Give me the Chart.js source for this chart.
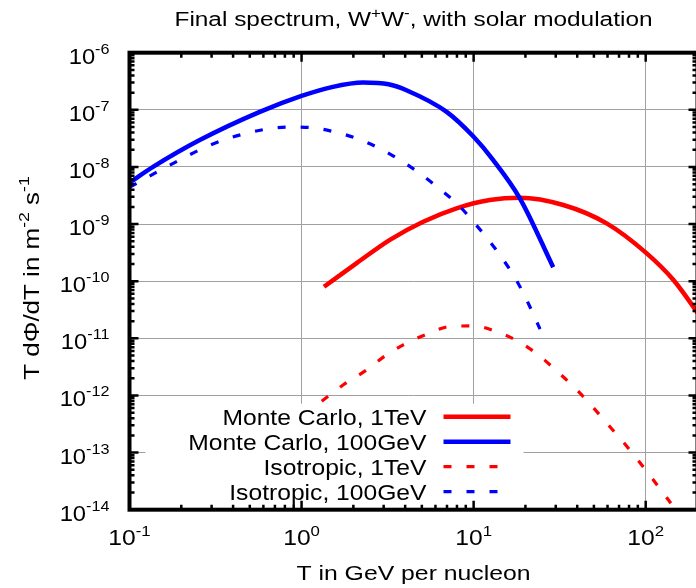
<!DOCTYPE html>
<html>
<head>
<meta charset="utf-8">
<script src="https://cdn.jsdelivr.net/npm/chart.js@4.4.1/dist/chart.umd.min.js"></script>
<style>
  html, body { margin: 0; padding: 0; background: #fff; overflow: hidden; }
  canvas { display: block; }
</style>
</head>
<body>
<canvas id="spectrum" width="700" height="588"></canvas>
<script>
// kinetic energy per nucleon T (GeV) and T dPhi/dT (m^-2 s^-1)
const mc1TeV_T      = [1.35, 2.09, 3.26, 5.09, 7.96, 12.4, 18.6, 33.2, 59.3, 101, 145, 194, 200];
const mc1TeV_flux   = [8.0e-11, 2.07e-10, 5.3e-10, 1.1e-9, 1.89e-9, 2.64e-9, 2.9e-9, 2.16e-9, 1.03e-9, 3.1e-10, 1.05e-10, 3.2e-11, 2.8e-11];

const mc100GeV_T    = [0.1, 0.137, 0.256, 0.572, 1.0, 1.5, 2.28, 3.2, 4.07, 6.97, 10, 13, 18.6, 29];
const mc100GeV_flux = [5.3e-9, 1.0e-8, 2.95e-8, 9.2e-8, 1.75e-7, 2.5e-7, 3.0e-7, 2.8e-7, 2.2e-7, 9.2e-8, 3.37e-8, 1.32e-8, 2.8e-9, 1.76e-10];

const iso1TeV_T     = [1.31, 1.75, 2.39, 3.12, 3.90, 5.33, 7.28, 10, 13.6, 18.6, 24.0, 30.6, 38.8, 48.5, 59.3, 73.5, 89.8, 110, 134, 140];
const iso1TeV_flux  = [7.9e-13, 1.54e-12, 2.8e-12, 5.15e-12, 7.7e-12, 1.18e-11, 1.61e-11, 1.65e-11, 1.31e-11, 8.5e-12, 5.0e-12, 2.63e-12, 1.35e-12, 6.6e-13, 3.3e-13, 1.57e-13, 7.5e-14, 3.4e-14, 1.55e-14, 1.3e-14];

const iso100GeV_T   = [0.1, 0.164, 0.313, 0.598, 0.855, 1.12, 1.56, 2.13, 2.85, 3.73, 4.87, 6.37, 8.15, 9.96, 12.2, 14.9, 17.8, 20.7, 23.7, 24.3];
const iso100GeV_flux= [4.4e-9, 1.0e-8, 2.6e-8, 4.5e-8, 5.0e-8, 4.9e-8, 4.1e-8, 3.1e-8, 2.1e-8, 1.32e-8, 7.7e-9, 4.1e-9, 2.16e-9, 1.1e-9, 5.3e-10, 2.35e-10, 1.02e-10, 4.2e-11, 1.72e-11, 1.45e-11];

const xTicks = [0.1, 1, 10, 100];
const yTicks = [1e-14, 1e-13, 1e-12, 1e-11, 1e-10, 1e-9, 1e-8, 1e-7, 1e-6];

const FONT = '"Liberation Sans", Arial, sans-serif';

function pts(xs, ys) {
    return xs.map((x, i) => ({ x: x, y: ys[i] }));
}

// text with superscript pieces: parts = [[text, isSup], ...]
// sx stretches the glyphs horizontally (the plot font runs wide)
function richWidth(ctx, parts, size, supSize) {
    let w = 0;
    parts.forEach(p => {
        ctx.font = (p[1] ? supSize : size) + 'px ' + FONT;
        w += ctx.measureText(p[0]).width;
    });
    return w;
}

function drawRich(ctx, parts, x, y, align, size, supSize, rise, sx) {
    sx = sx || 1;
    const w = richWidth(ctx, parts, size, supSize) * sx;
    const x0 = align === 'center' ? x - w / 2 : (align === 'right' ? x - w : x);
    ctx.save();
    ctx.translate(x0, y);
    ctx.scale(sx, 1);
    ctx.textAlign = 'left';
    ctx.textBaseline = 'alphabetic';
    let cx = 0;
    parts.forEach(p => {
        ctx.font = (p[1] ? supSize : size) + 'px ' + FONT;
        ctx.fillText(p[0], cx, p[1] ? -rise : 0);
        cx += ctx.measureText(p[0]).width;
    });
    ctx.restore();
}

// minor tick positions 2..9 in every decade
function minorValues(min, max) {
    const out = [];
    for (let e = Math.floor(Math.log10(min)); e <= Math.ceil(Math.log10(max)); e++) {
        for (let k = 2; k <= 9; k++) {
            const v = k * Math.pow(10, e);
            if (v > min && v < max) out.push(v);
        }
    }
    return out;
}

const keyBox = {
    id: 'keyBox',
    afterDatasetsDraw(chart) {
        const ctx = chart.ctx;
        const a = chart.chartArea;
        ctx.save();
        ctx.fillStyle = '#ffffff';
        ctx.fillRect(a.left + 16, a.bottom - 106, 378, 106);
        chart.data.datasets.forEach((ds, i) => {
            const yc = a.bottom - 93 + i * 25;
            ctx.fillStyle = '#000';
            drawRich(ctx, [[ds.label, false]], a.left + 297, yc + 8, 'right', 22, 15, 0, 1.12);
            ctx.strokeStyle = ds.borderColor;
            ctx.lineWidth = ds.borderWidth;
            ctx.setLineDash(ds.borderDash || []);
            ctx.beginPath();
            ctx.moveTo(a.left + 314, yc);
            ctx.lineTo(a.left + 381, yc);
            ctx.stroke();
        });
        ctx.restore();
    }
};

const frame = {
    id: 'frame',
    afterDraw(chart) {
        const ctx = chart.ctx;
        const a = chart.chartArea;
        const xs = chart.scales.x, ys = chart.scales.y;
        ctx.save();
        ctx.strokeStyle = '#000';

        // tick marks on all four sides
        ctx.lineWidth = 2.5;
        ctx.beginPath();
        xTicks.forEach(v => {
            const px = xs.getPixelForValue(v);
            ctx.moveTo(px, a.bottom); ctx.lineTo(px, a.bottom - 9);
            ctx.moveTo(px, a.top); ctx.lineTo(px, a.top + 9);
        });
        minorValues(xs.min, xs.max).forEach(v => {
            const px = xs.getPixelForValue(v);
            ctx.moveTo(px, a.bottom); ctx.lineTo(px, a.bottom - 5);
            ctx.moveTo(px, a.top); ctx.lineTo(px, a.top + 5);
        });
        yTicks.forEach(v => {
            const py = ys.getPixelForValue(v);
            ctx.moveTo(a.left, py); ctx.lineTo(a.left + 9, py);
            ctx.moveTo(a.right, py); ctx.lineTo(a.right - 9, py);
        });
        minorValues(ys.min, ys.max).forEach(v => {
            const py = ys.getPixelForValue(v);
            ctx.moveTo(a.left, py); ctx.lineTo(a.left + 5, py);
            ctx.moveTo(a.right, py); ctx.lineTo(a.right - 5, py);
        });
        ctx.stroke();

        // border
        ctx.lineWidth = 4;
        ctx.strokeRect(a.left, a.top, a.right - a.left, a.bottom - a.top);

        // tick labels
        ctx.fillStyle = '#000';
        yTicks.forEach(v => {
            const py = ys.getPixelForValue(v);
            const e = Math.round(Math.log10(v));
            drawRich(ctx, [['10', false], [String(e), true]], a.left - 20, py + 11, 'right', 22, 15, 10, 1.08);
        });
        xTicks.forEach(v => {
            const px = xs.getPixelForValue(v);
            const e = Math.round(Math.log10(v));
            drawRich(ctx, [['10', false], [String(e), true]], px, a.bottom + 35, 'center', 22, 15, 9, 1.12);
        });

        // titles
        const cx = (a.left + a.right) / 2;
        drawRich(ctx, [['Final spectrum, W', false], ['+', true], ['W', false], ['-', true], [', with solar modulation', false]],
            cx, 26, 'center', 20, 14, 8, 1.22);
        drawRich(ctx, [['T in GeV per nucleon', false]], cx, a.bottom + 70, 'center', 21, 15, 0, 1.18);

        ctx.translate(39, 278);
        ctx.rotate(-Math.PI / 2);
        drawRich(ctx, [['T d\u03A6/dT in m', false], ['-2', true], [' s', false], ['-1', true]], 0, 0, 'center', 22, 15, 10, 1.18);
        ctx.restore();
    }
};

new Chart(document.getElementById('spectrum'), {
    type: 'line',
    data: {
        datasets: [
            { label: 'Monte Carlo, 1TeV', data: pts(mc1TeV_T, mc1TeV_flux), borderColor: '#ff0000', borderWidth: 4.5, order: 4 },
            { label: 'Monte Carlo, 100GeV', data: pts(mc100GeV_T, mc100GeV_flux), borderColor: '#0000ff', borderWidth: 4.5, order: 1 },
            { label: 'Isotropic, 1TeV', data: pts(iso1TeV_T, iso1TeV_flux), borderColor: '#ff0000', borderWidth: 3.2, borderDash: [8, 15], order: 3 },
            { label: 'Isotropic, 100GeV', data: pts(iso100GeV_T, iso100GeV_flux), borderColor: '#0000ff', borderWidth: 3.2, borderDash: [8, 15], order: 2 }
        ]
    },
    options: {
        responsive: false,
        animation: false,
        devicePixelRatio: 1,
        layout: { padding: { left: 129.5, right: 2.5, top: 52.7, bottom: 78.3 } },
        elements: {
            point: { radius: 0 },
            line: { cubicInterpolationMode: 'monotone', fill: false, borderCapStyle: 'butt' }
        },
        plugins: { legend: { display: false }, tooltip: { enabled: false } },
        scales: {
            x: {
                type: 'logarithmic', min: 0.1, max: 200,
                afterBuildTicks: s => { s.ticks = xTicks.map(v => ({ value: v })); },
                ticks: { display: false },
                grid: { color: '#a0a0a0', lineWidth: 1, drawTicks: false },
                border: { display: false }
            },
            y: {
                type: 'logarithmic', min: 1e-14, max: 1e-6,
                afterBuildTicks: s => { s.ticks = yTicks.map(v => ({ value: v })); },
                ticks: { display: false },
                grid: { color: '#a0a0a0', lineWidth: 1, drawTicks: false },
                border: { display: false }
            }
        }
    },
    plugins: [keyBox, frame]
});
</script>
</body>
</html>
